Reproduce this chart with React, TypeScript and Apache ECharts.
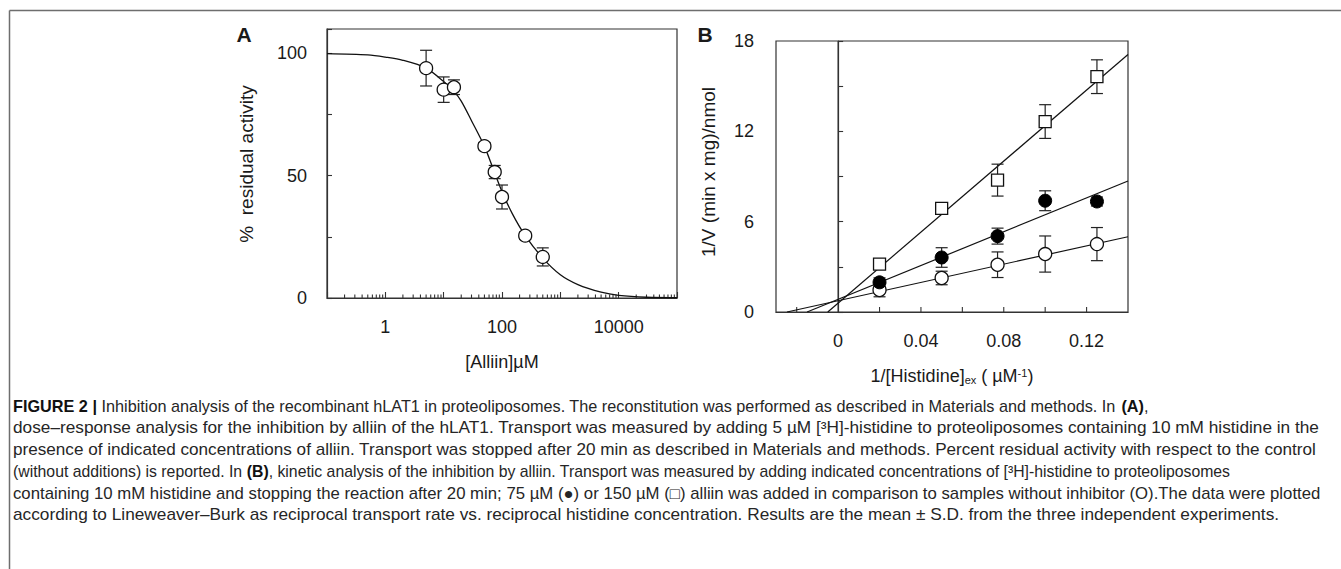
import React, { useEffect, useRef } from "react";
import * as echarts from "echarts";

// ---------- Panel A: dose-response ----------
const A_CONC = [5, 10, 15, 50, 75, 100, 250, 500];
const A_ACTIVITY = [94.0, 85.2, 86.2, 62.1, 51.5, 41.3, 25.5, 16.8];
const A_SD = [7.3, 5.2, 3.0, 1.5, 2.7, 4.9, 1.5, 3.7];
const A_FIT_X = [0.1, 0.5, 1, 2, 5, 10, 15, 20, 30, 50, 70, 100, 150, 250, 500, 1000, 2000, 5000, 10000, 30000, 100000];
const A_FIT_Y = [99.9, 99.4, 98.5, 97.2, 94, 88.5, 84.5, 80.5, 72.5, 62, 53, 43.5, 34.5, 25.5, 16.3, 9.5, 5.5, 2.4, 1.1, 0.3, 0.1];
const A_X_LABELS = [1, 100, 10000];
const A_Y_LABELS = [0, 50, 100];

// ---------- Panel B: Lineweaver-Burk ----------
const B_X = [0.02, 0.05, 0.077, 0.1, 0.125];
const B_CTRL_Y = [1.46, 2.26, 3.14, 3.85, 4.51];
const B_CTRL_SD = [0.45, 0.45, 0.85, 1.2, 1.1];
const B_75_Y = [1.97, 3.62, 5.04, 7.39, 7.34];
const B_75_SD = [0.3, 0.65, 0.53, 0.66, 0.3];
const B_150_Y = [3.18, 6.88, 8.76, 12.65, 15.63];
const B_150_SD = [0.2, 0.2, 1.06, 1.12, 1.12];
const B_CTRL_FIT = [[-0.0247, 0], [0.14, 5.0]];
const B_75_FIT = [[-0.015, 0], [0.14, 8.7]];
const B_150_FIT = [[-0.005, 0], [0.14, 17.1]];
const B_X_TICKS = [-0.02, 0.02, 0.04, 0.06, 0.08, 0.1, 0.12];
const B_X_LABELS = [0, 0.04, 0.08, 0.12];
const B_Y_LABELS = [0, 6, 12, 18];

const CAPTION = [
  "{b|FIGURE 2 |} Inhibition analysis of the recombinant hLAT1 in proteoliposomes. The reconstitution was performed as described in Materials and methods. In {b|(A)},",
  "dose–response analysis for the inhibition by alliin of the hLAT1. Transport was measured by adding 5 µM [³H]-histidine to proteoliposomes containing 10 mM histidine in the",
  "presence of indicated concentrations of alliin. Transport was stopped after 20 min as described in Materials and methods. Percent residual activity with respect to the control",
  "(without additions) is reported. In {b|(B)}, kinetic analysis of the inhibition by alliin. Transport was measured by adding indicated concentrations of [³H]-histidine to proteoliposomes",
  "containing 10 mM histidine and stopping the reaction after 20 min; 75 µM (●) or 150 µM (□) alliin was added in comparison to samples without inhibitor (O).The data were plotted",
  "according to Lineweaver–Burk as reciprocal transport rate vs. reciprocal histidine concentration. Results are the mean ± S.D. from the three independent experiments.",
];
const CAPTION_RIGHT = [1148, 1320, 1317, 1231, 1321, 1281];

const FONT = "Liberation Sans, Arial, sans-serif";
const INK = "#1a1a1a";

function minorLogTicks(): number[] {
  const out: number[] = [];
  for (let d = -1; d <= 4; d++) {
    for (let m = 2; m <= 9; m++) out.push(m * Math.pow(10, d));
  }
  return out;
}

export default function App() {
  const ref = useRef<HTMLDivElement>(null);

  useEffect(() => {
    const el = ref.current!;
    const chart = echarts.init(el, undefined, { renderer: "svg" });

    const ctx = document.createElement("canvas").getContext("2d")!;
    const CAP_SIZE = 16;
    const measure = (line: string) => {
      let w = 0;
      const re = /\{b\|([^}]*)\}/g;
      let last = 0;
      let m: RegExpExecArray | null;
      while ((m = re.exec(line))) {
        ctx.font = `${CAP_SIZE}px "Liberation Sans"`;
        w += ctx.measureText(line.slice(last, m.index)).width;
        ctx.font = `bold ${CAP_SIZE}px "Liberation Sans"`;
        w += ctx.measureText(m[1]).width;
        last = m.index + m[0].length;
      }
      ctx.font = `${CAP_SIZE}px "Liberation Sans"`;
      w += ctx.measureText(line.slice(last)).width;
      return w;
    };

    const capLeft = 13;
    const capY0 = 406;
    const capStep = 21.7;
    const captionEls = CAPTION.map((line, i) => {
      const w = measure(line);
      const s = (CAPTION_RIGHT[i] - capLeft) / w;
      return {
        type: "text",
        x: capLeft,
        y: capY0 + i * capStep,
        scaleX: s,
        silent: true,
        style: {
          text: line,
          x: 0,
          y: 0,
          fill: "#262626",
          fontSize: CAP_SIZE,
          fontFamily: "Liberation Sans",
          align: "left",
          verticalAlign: "middle",
          textAlign: "left",
          textVerticalAlign: "middle",
          rich: {
            b: { fontSize: CAP_SIZE, fontFamily: "Liberation Sans", fontWeight: "bold", fill: "#111" },
          },
        },
      };
    });

    const txt = (text: string, x: number, y: number, size: number, extra: any = {}) => ({
      type: "text",
      x,
      y,
      silent: true,
      rotation: extra.rotation || 0,
      style: {
        text,
        x: 0,
        y: 0,
        fill: INK,
        fontSize: size,
        fontFamily: FONT,
        fontWeight: extra.bold ? "bold" : "normal",
        align: "center",
        verticalAlign: "middle",
        textAlign: "center",
        textVerticalAlign: "middle",
        rich: extra.rich,
      },
    });

    const errBar = (color: string) => (params: any, api: any) => {
      const x = api.value(0);
      const y = api.value(1);
      const e = api.value(2);
      const top = api.coord([x, y + e]);
      const bot = api.coord([x, y - e]);
      const cw = 6;
      const style = { stroke: color, lineWidth: 1.2, fill: null };
      return {
        type: "group",
        children: [
          { type: "line", shape: { x1: top[0], y1: top[1], x2: bot[0], y2: bot[1] }, style },
          { type: "line", shape: { x1: top[0] - cw, y1: top[1], x2: top[0] + cw, y2: top[1] }, style },
          { type: "line", shape: { x1: bot[0] - cw, y1: bot[1], x2: bot[0] + cw, y2: bot[1] }, style },
        ],
      };
    };

    const tickItem = (len: number) => (params: any, api: any) => {
      const p = api.coord([api.value(0), api.value(1)]);
      return {
        type: "line",
        shape: { x1: p[0], y1: p[1], x2: p[0], y2: p[1] - len },
        style: { stroke: "#333", lineWidth: 1.1 },
      };
    };

    const axisLabelStyle = { fontFamily: FONT, fontSize: 18, color: INK };
    const axisLine = { show: true, lineStyle: { color: "#333", width: 1.2 } };

    const option: any = {
      animation: false,
      backgroundColor: "#fff",
      grid: [
        { left: 327, top: 29, width: 350, height: 269, show: true, borderColor: "#333", borderWidth: 1.2 },
        { left: 776, top: 41, width: 352, height: 271, show: true, borderColor: "#333", borderWidth: 1.2 },
      ],
      xAxis: [
        {
          gridIndex: 0,
          type: "log",
          logBase: 10,
          min: 0.1,
          max: 100000,
          axisLine,
          axisTick: { show: true, inside: true, length: 6, lineStyle: { color: "#333", width: 1.1 } },
          splitLine: { show: false },
          axisLabel: {
            ...axisLabelStyle,
            margin: 20,
            showMinLabel: true,
            showMaxLabel: true,
            formatter: (v: number) => {
              const hit = A_X_LABELS.find((l) => Math.abs(Math.log10(v) - Math.log10(l)) < 1e-6);
              return hit !== undefined ? String(hit) : "";
            },
          },
        },
        {
          gridIndex: 1,
          type: "value",
          min: -0.03,
          max: 0.14,
          interval: 0.01,
          axisLine,
          axisTick: { show: false },
          splitLine: { show: false },
          axisLabel: {
            ...axisLabelStyle,
            margin: 20,
            formatter: (v: number) => {
              const r = +v.toFixed(4);
              return B_X_LABELS.indexOf(r) >= 0 ? String(r) : "";
            },
          },
        },
      ],
      yAxis: [
        {
          gridIndex: 0,
          type: "value",
          min: 0,
          max: 110,
          interval: 25,
          axisLine,
          axisTick: { show: true, inside: true, length: 5, lineStyle: { color: "#333", width: 1.1 } },
          splitLine: { show: false },
          axisLabel: {
            ...axisLabelStyle,
            margin: 20,
            formatter: (v: number) => (A_Y_LABELS.indexOf(v) >= 0 ? String(v) : ""),
          },
        },
        {
          gridIndex: 1,
          type: "value",
          min: 0,
          max: 18,
          interval: 3,
          axisLine,
          axisTick: { show: true, inside: true, length: 5, lineStyle: { color: "#333", width: 1.1 } },
          splitLine: { show: false },
          axisLabel: {
            ...axisLabelStyle,
            margin: 22,
            formatter: (v: number) => (B_Y_LABELS.indexOf(v) >= 0 ? String(v) : ""),
          },
        },
      ],
      series: [
        // ---- Panel A ----
        {
          type: "custom",
          xAxisIndex: 0,
          yAxisIndex: 0,
          silent: true,
          renderItem: tickItem(3.5),
          data: minorLogTicks().map((v) => [v, 0]),
          z: 1,
        },
        {
          type: "line",
          xAxisIndex: 0,
          yAxisIndex: 0,
          data: A_FIT_X.map((x, i) => [x, A_FIT_Y[i]]),
          showSymbol: false,
          smooth: 0.3,
          lineStyle: { color: "#111", width: 1.3 },
          silent: true,
          z: 2,
        },
        {
          type: "custom",
          xAxisIndex: 0,
          yAxisIndex: 0,
          silent: true,
          renderItem: errBar("#222"),
          data: A_CONC.map((x, i) => [x, A_ACTIVITY[i], A_SD[i]]),
          z: 3,
        },
        {
          type: "scatter",
          xAxisIndex: 0,
          yAxisIndex: 0,
          symbol: "circle",
          symbolSize: 13,
          itemStyle: { color: "#fff", borderColor: "#111", borderWidth: 1.3, opacity: 1 },
          data: A_CONC.map((x, i) => [x, A_ACTIVITY[i]]),
          silent: true,
          z: 4,
        },
        // ---- Panel B ----
        {
          type: "custom",
          xAxisIndex: 1,
          yAxisIndex: 1,
          silent: true,
          renderItem: tickItem(5),
          data: B_X_TICKS.map((v) => [v, 0]),
          z: 1,
        },
        {
          type: "line",
          xAxisIndex: 1,
          yAxisIndex: 1,
          data: [[0, 0], [0, 18]],
          showSymbol: false,
          lineStyle: { color: "#333", width: 1.2 },
          silent: true,
          z: 2,
        },
        ...[B_CTRL_FIT, B_75_FIT, B_150_FIT].map((d) => ({
          type: "line",
          xAxisIndex: 1,
          yAxisIndex: 1,
          data: d,
          showSymbol: false,
          lineStyle: { color: "#111", width: 1.2 },
          silent: true,
          z: 2,
        })),
        ...[
          [B_CTRL_Y, B_CTRL_SD],
          [B_75_Y, B_75_SD],
          [B_150_Y, B_150_SD],
        ].map(([ys, sd]) => ({
          type: "custom",
          xAxisIndex: 1,
          yAxisIndex: 1,
          silent: true,
          renderItem: errBar("#222"),
          data: B_X.map((x, i) => [x, ys[i], sd[i]]),
          z: 3,
        })),
        {
          type: "scatter",
          xAxisIndex: 1,
          yAxisIndex: 1,
          symbol: "circle",
          symbolSize: 13,
          itemStyle: { color: "#fff", borderColor: "#111", borderWidth: 1.3, opacity: 1 },
          data: B_X.map((x, i) => [x, B_CTRL_Y[i]]),
          silent: true,
          z: 4,
        },
        {
          type: "scatter",
          xAxisIndex: 1,
          yAxisIndex: 1,
          symbol: "circle",
          symbolSize: 13,
          itemStyle: { color: "#000", borderColor: "#000", borderWidth: 1, opacity: 1 },
          data: B_X.map((x, i) => [x, B_75_Y[i]]),
          silent: true,
          z: 4,
        },
        {
          type: "scatter",
          xAxisIndex: 1,
          yAxisIndex: 1,
          symbol: "rect",
          symbolSize: 12,
          itemStyle: { color: "#fff", borderColor: "#111", borderWidth: 1.3, opacity: 1 },
          data: B_X.map((x, i) => [x, B_150_Y[i]]),
          silent: true,
          z: 4,
        },
      ],
      graphic: [
        { type: "line", silent: true, shape: { x1: 9.5, y1: 10.5, x2: 1341, y2: 10.5 }, style: { stroke: "#6e6e6e", lineWidth: 1.5 } },
        { type: "line", silent: true, shape: { x1: 9.5, y1: 10.5, x2: 9.5, y2: 569 }, style: { stroke: "#6e6e6e", lineWidth: 1.5 } },
        txt("A", 244, 34, 21, { bold: true }),
        txt("B", 705, 34, 21, { bold: true }),
        txt("%  residual activity", 246, 164, 19, { rotation: Math.PI / 2 }),
        txt("1/V (min x mg)/nmol", 708, 172, 19, { rotation: Math.PI / 2 }),
        txt("[Alliin]µM", 502, 362, 18),
        txt("1/[Histidine]{sub|ex} ( µM{sup|-1})", 952, 376, 18, {
          rich: {
            sub: { fontSize: 11, fontFamily: FONT, fill: INK, verticalAlign: "bottom", lineHeight: 11 },
            sup: { fontSize: 11, fontFamily: FONT, fill: INK, verticalAlign: "top", lineHeight: 11 },
          },
        }),
        ...captionEls,
      ],
    };

    chart.setOption(option);
    return () => chart.dispose();
  }, []);

  return (
    <div
      ref={ref}
      style={{ position: "fixed", left: 0, top: 0, width: 1341, height: 569, background: "#fff" }}
    />
  );
}
